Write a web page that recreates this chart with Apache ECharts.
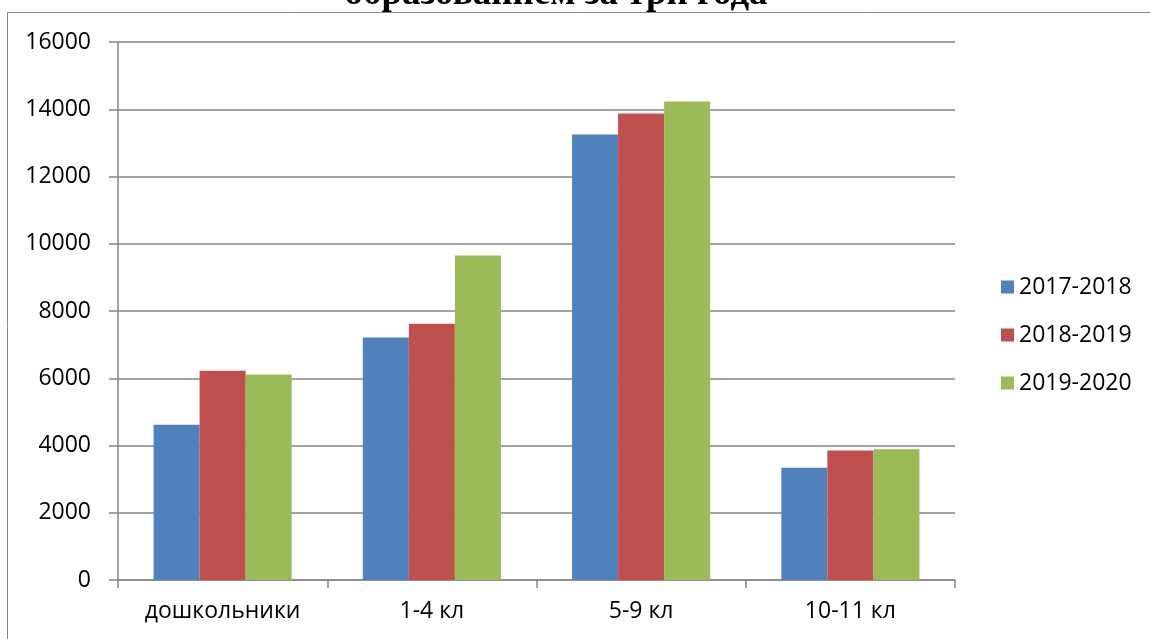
<!DOCTYPE html>
<html>
<head>
<meta charset="utf-8">
<script src="https://cdn.jsdelivr.net/npm/echarts@6/dist/echarts.min.js"></script>
<style>
html,body{margin:0;padding:0;background:#fff;}
#chart{width:1150px;height:639px;}
</style>
</head>
<body>
<div id="chart"></div>
<script>
const categories = ['дошкольники', '1-4 кл', '5-9 кл', '10-11 кл'];
const seriesNames = ['2017-2018', '2018-2019', '2019-2020'];
const values2017 = [4620, 7210, 13250, 3340];
const values2018 = [6220, 7620, 13870, 3850];
const values2019 = [6110, 9650, 14230, 3890];
const yTicks = { min: 0, max: 16000, interval: 2000 };
const titleText = 'образованием за три года';
const colors = ['#4F81BD', '#C0504D', '#9BBB59'];

const chart = echarts.init(document.getElementById('chart'));
const font = 'Open Sans';
const fs = 23;
const dataSets = [values2017, values2018, values2019];
chart.setOption({
  animation: false,
  backgroundColor: '#fff',
  graphic: [
    { type: 'rect', shape: { x: 7.5, y: 12.5, width: 1200, height: 700 },
      style: { fill: 'none', stroke: '#868686', lineWidth: 1 }, z: -1 },
    { type: 'text', x: 556, y: -6,
      style: { text: titleText, font: 'bold 37px "Liberation Serif"', fill: '#000',
               align: 'center', verticalAlign: 'middle' } }
  ],
  legend: {
    orient: 'vertical', left: 996, top: 269,
    itemWidth: 13, itemHeight: 13, itemGap: 22, icon: 'rect',
    textStyle: { fontFamily: font, fontSize: fs, color: '#000', lineHeight: 26 },
    data: seriesNames
  },
  grid: { left: 118, top: 42, right: 195, bottom: 59 },
  xAxis: {
    type: 'category', data: categories,
    axisLine: { lineStyle: { color: '#868686', width: 1.5 } },
    axisTick: { show: true, length: 8, lineStyle: { color: '#868686', width: 1.5 } },
    axisLabel: { fontFamily: font, fontSize: fs, color: '#000', margin: 20 }
  },
  yAxis: {
    type: 'value', min: yTicks.min, max: yTicks.max, interval: yTicks.interval,
    axisLine: { show: true, lineStyle: { color: '#868686', width: 1.5 } },
    axisTick: { show: true, length: 9, lineStyle: { color: '#868686', width: 1.5 } },
    splitLine: { lineStyle: { color: '#868686', width: 1.5 } },
    axisLabel: { fontFamily: font, fontSize: fs, color: '#000', margin: 27,
                 formatter: v => String(v) }
  },
  series: seriesNames.map((n, i) => ({
    name: n, type: 'bar', data: dataSets[i],
    itemStyle: { color: colors[i] },
    barGap: '0%', barCategoryGap: '34%'
  }))
});
</script>
</body>
</html>
